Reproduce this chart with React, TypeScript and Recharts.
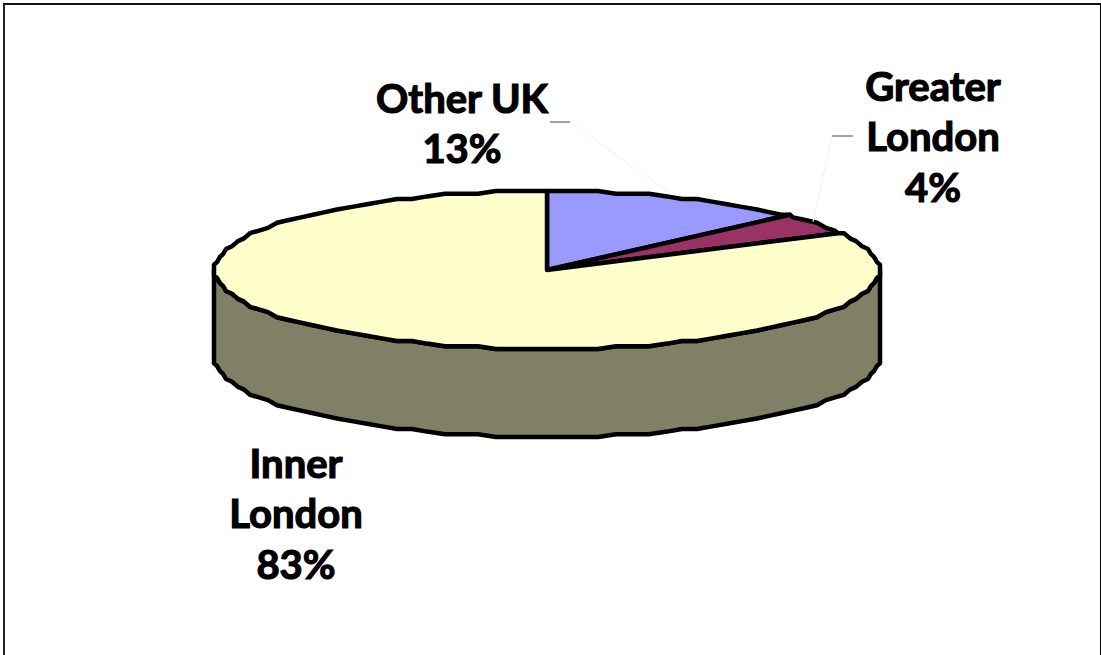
import { Pie, PieChart } from 'recharts';

const names = ['Other UK', 'Greater London', 'Inner London'];
const shares = [13, 4, 83];
const colors = ['#9999FF', '#993366', '#FFFFCC'];
const wallColor = '#808066';

const data = names.map((name, i) => ({ name, value: shares[i], fill: colors[i] }));

const SQUASH = 0.238;
const DEPTH = 88;
const STEP = 3;
const SNAP_X = 3;
const SNAP_Y = 2.63;

// label placement, by slice
const labelLayout: Record<string, { x: number; y: number; lines: string[]; leader: number[][] }> = {
    'Other UK': {
        x: 462,
        y: 113,
        lines: ['Other UK', '13%'],
        leader: [[550, 122, 570, 122], [570, 122, 668, 192]],
    },
    'Greater London': {
        x: 933,
        y: 101,
        lines: ['Greater', 'London', '4%'],
        leader: [[832, 136, 853, 136], [832, 136, 813, 222]],
    },
    'Inner London': {
        x: 296,
        y: 478,
        lines: ['Inner', 'London', '83%'],
        leader: [],
    },
};

// the source picture is a low-res scan, so the rim gets snapped to a coarse grid
function rimPoint(cx: number, cy: number, r: number, deg: number) {
    const rad = (-deg * Math.PI) / 180;
    const dx = r * Math.cos(rad);
    const dy = r * SQUASH * Math.sin(rad);
    return [cx + Math.round(dx / SNAP_X) * SNAP_X, cy + Math.round(dy / SNAP_Y) * SNAP_Y];
}

// from > to, angles as recharts hands them over
function rim(cx: number, cy: number, r: number, from: number, to: number) {
    const pts = [rimPoint(cx, cy, r, from)];
    let a = Math.ceil(from / STEP) * STEP - STEP;
    while (a > to) {
        pts.push(rimPoint(cx, cy, r, a));
        a -= STEP;
    }
    pts.push(rimPoint(cx, cy, r, to));
    return pts;
}

const toPath = (pts: number[][]) => pts.map((p, i) => `${i ? 'L' : 'M'}${p[0].toFixed(1)},${p[1].toFixed(1)}`).join(' ');

function DiscSlice(props: any) {
    const { cx, cy, outerRadius, startAngle, endAngle, fill } = props;
    const top = rim(cx, cy, outerRadius, startAngle, endAngle);
    const low = Math.max(endAngle, -180);
    const high = Math.min(startAngle, 0);
    let wall = null;
    if (high > low) {
        const upper = rim(cx, cy, outerRadius, high, low);
        const lower = upper.map((p) => [p[0], p[1] + DEPTH]).reverse();
        wall = (
            <path
                d={`${toPath(upper)} ${toPath(lower).replace('M', 'L')} Z`}
                fill={wallColor}
                stroke="#000"
                strokeWidth={4.5}
                strokeLinejoin="round"
            />
        );
    }
    return (
        <g>
            {wall}
            <path
                d={`M${cx},${cy} ${toPath(top).replace('M', 'L')} Z`}
                fill={fill}
                stroke="#000"
                strokeWidth={4.5}
                strokeLinejoin="round"
            />
        </g>
    );
}

function SliceLabel(props: any) {
    const layout = labelLayout[props.name];
    if (!layout) return null;
    return (
        <g>
            {layout.leader.map((l, i) => (
                <line
                    key={i}
                    x1={l[0]}
                    y1={l[1]}
                    x2={l[2]}
                    y2={l[3]}
                    stroke={i === 0 ? '#444' : '#f0f0f0'}
                    strokeWidth={1}
                />
            ))}
            {layout.lines.map((line, i) => (
                <text
                    key={line}
                    x={layout.x}
                    y={layout.y + i * 50.3}
                    textAnchor="middle"
                    fontFamily="Lato"
                    fontWeight={700}
                    fontSize={40}
                    stroke="#000"
                    strokeWidth={1.2}
                    fill="#000"
                >
                    {line}
                </text>
            ))}
        </g>
    );
}

export default function App() {
    return (
        <div
            style={{
                position: 'absolute',
                left: 0,
                top: 0,
                width: 1101,
                height: 655,
                background: '#fff',
                overflow: 'hidden',
            }}
        >
            <div
                style={{
                    position: 'absolute',
                    left: 3,
                    top: 3,
                    width: 1095,
                    height: 660,
                    borderLeft: '2px solid #222',
                    borderTop: '2px solid #111',
                    borderRight: '1px solid #000',
                }}
            />
            <div style={{ position: 'absolute', left: 0, top: 0 }}>
                <PieChart width={1101} height={655} margin={{ top: 0, right: 0, bottom: 0, left: 0 }}>
                    <Pie
                        data={data}
                        dataKey="value"
                        nameKey="name"
                        cx={547}
                        cy={270}
                        innerRadius={0}
                        outerRadius={332}
                        startAngle={90}
                        endAngle={-270}
                        paddingAngle={0}
                        shape={DiscSlice}
                        label={SliceLabel}
                        labelLine={false}
                        isAnimationActive={false}
                    />
                </PieChart>
            </div>
        </div>
    );
}
